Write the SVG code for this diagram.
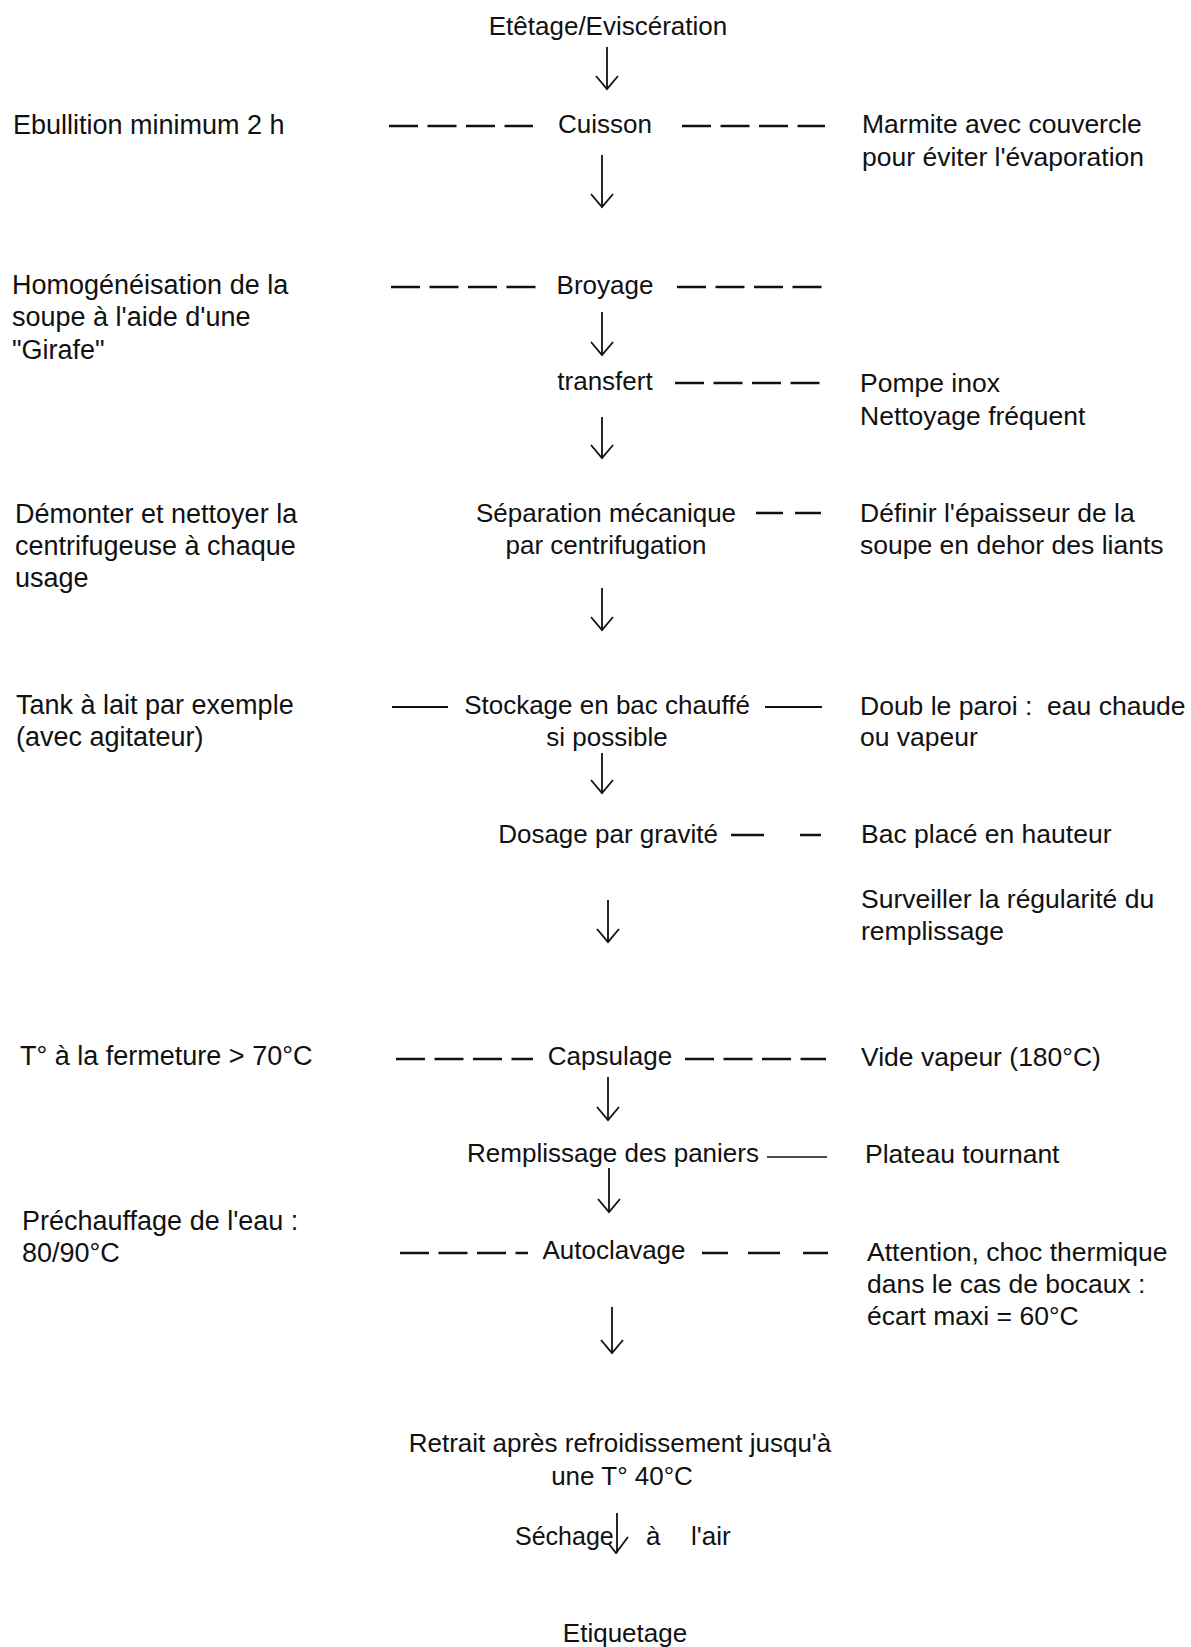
<svg xmlns="http://www.w3.org/2000/svg" width="1191" height="1647" viewBox="0 0 1191 1647">
<style>
text{font-family:"Liberation Sans",Arial,Helvetica,sans-serif;font-size:26px;fill:#111}
.c{text-anchor:middle}
.l text{font-size:27px}
.r text{font-size:26.5px}
.arr{stroke:#111;stroke-width:1.8;fill:none;marker-end:url(#ah)}
.d{stroke:#111;stroke-width:2.6;stroke-dasharray:29 9.5;fill:none}
.s{stroke:#111;stroke-width:2.2;fill:none}
.t{stroke:#111;stroke-width:1.6;fill:none}
</style>
<defs>
<marker id="ah" markerUnits="userSpaceOnUse" viewBox="-15 -15 30 30" markerWidth="30" markerHeight="30" refX="0" refY="0" orient="auto" overflow="visible">
<path d="M-13,-11 L0,0 L-13,11" stroke="#111" stroke-width="1.8" fill="none"/>
</marker>
</defs>
<rect width="1191" height="1647" fill="#fff"/>

<g id="connectors">
<line class="arr" x1="607" y1="47" x2="607" y2="89"/>
<line class="arr" x1="602" y1="155" x2="602" y2="207"/>
<line class="arr" x1="602" y1="312" x2="602" y2="355"/>
<line class="arr" x1="602" y1="417" x2="602" y2="458"/>
<line class="arr" x1="602" y1="588" x2="602" y2="630"/>
<line class="arr" x1="602" y1="753" x2="602" y2="793"/>
<line class="arr" x1="608" y1="900" x2="608" y2="942"/>
<line class="arr" x1="608" y1="1077" x2="608" y2="1120"/>
<line class="arr" x1="609" y1="1168" x2="609" y2="1212"/>
<line class="arr" x1="612" y1="1307" x2="612" y2="1353"/>
<path d="M617,1513 L617,1553 M609,1544 L616,1553 L628,1537" stroke="#111" stroke-width="1.8" fill="none"/>

<line class="d" x1="389" y1="126" x2="533" y2="126"/>
<line class="d" x1="682" y1="126" x2="825" y2="126"/>
<line class="d" x1="391" y1="287" x2="541" y2="287"/>
<line class="d" x1="677" y1="287" x2="824" y2="287"/>
<line class="d" x1="675" y1="383" x2="824" y2="383"/>
<line class="d" x1="756" y1="513" x2="821" y2="513" style="stroke-dasharray:27 12"/>
<line class="s" x1="392" y1="707" x2="448" y2="707"/>
<line class="s" x1="765" y1="707" x2="822" y2="707"/>
<line class="d" x1="731" y1="835" x2="821" y2="835" style="stroke-dasharray:33 36"/>
<line class="d" x1="396" y1="1059" x2="533" y2="1059"/>
<line class="d" x1="685" y1="1059" x2="826" y2="1059"/>
<line class="t" x1="767" y1="1157" x2="827" y2="1157"/>
<line class="d" x1="400" y1="1253" x2="528" y2="1253"/>
<line class="d" x1="702" y1="1253" x2="828" y2="1253" style="stroke-dasharray:26 20 32 23"/>
</g>

<g id="n-etetage"><text class="c" x="608" y="35">Etêtage/Eviscération</text></g>
<g id="n-cuisson"><text class="c" x="605" y="133">Cuisson</text></g>
<g id="n-broyage"><text class="c" x="605" y="294">Broyage</text></g>
<g id="n-transfert"><text class="c" x="605" y="390">transfert</text></g>
<g id="n-separation"><text class="c" x="606" y="522">Séparation mécanique</text><text class="c" x="606" y="554">par centrifugation</text></g>
<g id="n-stockage"><text class="c" x="607" y="714">Stockage en bac chauffé</text><text class="c" x="607" y="746">si possible</text></g>
<g id="n-dosage"><text class="c" x="608" y="843">Dosage par gravité</text></g>
<g id="n-capsulage"><text class="c" x="610" y="1065">Capsulage</text></g>
<g id="n-remplissage"><text class="c" x="613" y="1162">Remplissage des paniers</text></g>
<g id="n-autoclavage"><text class="c" x="614" y="1259">Autoclavage</text></g>
<g id="n-retrait"><text class="c" x="620" y="1452">Retrait après refroidissement jusqu'à</text><text class="c" x="622" y="1485">une T° 40°C</text></g>
<g id="n-sechage"><text x="515" y="1545" style="font-size:25px">Séchage</text><text x="646" y="1545">à</text><text x="691" y="1545">l'air</text></g>
<g id="n-etiquetage"><text class="c" x="625" y="1642">Etiquetage</text></g>

<g id="n-left-cuisson" class="l"><text x="13" y="134">Ebullition minimum 2 h</text></g>
<g id="n-left-broyage" class="l"><text x="12" y="294">Homogénéisation de la</text><text x="12" y="326">soupe à l'aide d'une</text><text x="12" y="359">"Girafe"</text></g>
<g id="n-left-separation" class="l"><text x="15" y="523">Démonter et nettoyer la</text><text x="15" y="555">centrifugeuse à chaque</text><text x="15" y="587">usage</text></g>
<g id="n-left-stockage" class="l"><text x="16" y="714">Tank à lait par exemple</text><text x="16" y="746">(avec agitateur)</text></g>
<g id="n-left-capsulage" class="l"><text x="20" y="1065">T° à la fermeture &gt; 70°C</text></g>
<g id="n-left-autoclavage" class="l"><text x="22" y="1230">Préchauffage de l'eau :</text><text x="22" y="1262">80/90°C</text></g>

<g id="n-right-cuisson" class="r"><text x="862" y="133">Marmite avec couvercle</text><text x="862" y="166">pour éviter l'évaporation</text></g>
<g id="n-right-transfert" class="r"><text x="860" y="392">Pompe inox</text><text x="860" y="425">Nettoyage fréquent</text></g>
<g id="n-right-separation" class="r"><text x="860" y="522">Définir l'épaisseur de la</text><text x="860" y="554">soupe en dehor des liants</text></g>
<g id="n-right-stockage" class="r"><text x="860" y="715" xml:space="preserve">Doub le paroi :  eau chaude</text><text x="860" y="746">ou vapeur</text></g>
<g id="n-right-dosage" class="r"><text x="861" y="843">Bac placé en hauteur</text></g>
<g id="n-right-dosage2" class="r"><text x="861" y="908">Surveiller la régularité du</text><text x="861" y="940">remplissage</text></g>
<g id="n-right-capsulage" class="r"><text x="861" y="1066">Vide vapeur (180°C)</text></g>
<g id="n-right-remplissage" class="r"><text x="865" y="1163">Plateau tournant</text></g>
<g id="n-right-autoclavage" class="r"><text x="867" y="1261">Attention, choc thermique</text><text x="867" y="1293">dans le cas de bocaux :</text><text x="867" y="1325">écart maxi = 60°C</text></g>
</svg>
